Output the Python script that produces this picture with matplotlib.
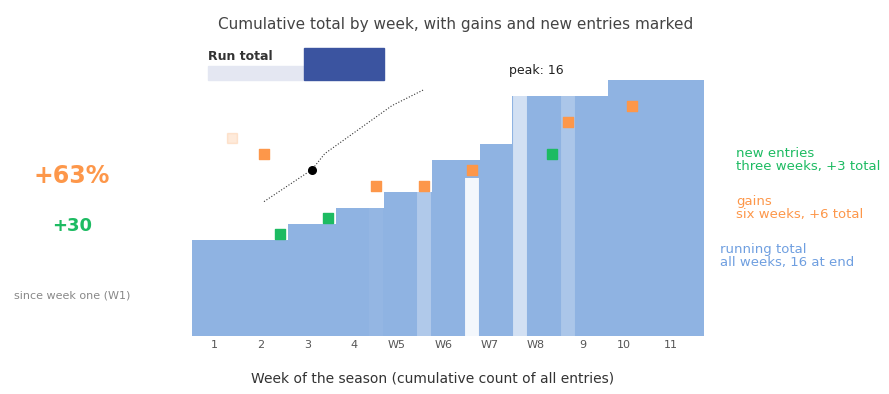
import matplotlib.pyplot as plt
from matplotlib.patches import Rectangle

# step levels of the cumulative total
edges = [0, 6, 9, 12, 15, 18, 20, 26, 32]
level = [6, 7, 8, 9, 11, 12, 15, 16]

tick_pos = [1.4, 4.3, 7.2, 10.1, 12.8, 15.7, 18.6, 21.5, 24.4, 27.0, 29.9]
tick_lab = ['1', '2', '3', '4', 'W5', 'W6', 'W7', 'W8', '9', '10', '11']

# events
gain_x = [4.5, 11.5, 14.5, 17.5, 23.5, 27.5]
gain_y = [11.4, 9.4, 9.4, 10.4, 13.4, 14.4]
new_x = [5.5, 8.5, 22.5]
new_y = [6.4, 7.4, 11.4]

stem_x = [11.5, 14.5, 17.5, 20.5, 23.5]
stem_top = [8, 9, 9.9, 15, 15]
stem_alpha = [0.05, 0.3, 0.9, 0.6, 0.25]

trend_x = [4.5, 7.5, 8.3, 12.5, 14.5]
trend_y = [8.4, 10.4, 11.4, 14.4, 15.4]

blue = '#8fb3e2'
orange = '#fd974a'
green = '#1dbb62'

fig = plt.figure(figsize=(8.89, 3.94), dpi=100)
ax = fig.add_axes([192 / 889, 1 - 336 / 394, 512 / 889, 272 / 394])

ax.stairs(level, edges, fill=True, color=blue, baseline=0)
for x, t, a in zip(stem_x, stem_top, stem_alpha):
    ax.vlines(x, 0, t, color='white', lw=10, alpha=a)

ax.plot(trend_x, trend_y, color='#333333', lw=0.8, ls=':', zorder=3)
ax.scatter(trend_x[1:2], trend_y[1:2], s=30, color='black', zorder=4)
ax.scatter(gain_x, gain_y, s=60, color=orange, marker='s', zorder=4)
ax.scatter([2.5], [12.4], s=60, color=orange, marker='s', alpha=0.2, zorder=4)
ax.scatter(new_x, new_y, s=60, color=green, marker='s', zorder=4)

ax.text(21.5, 16.6, 'peak: 16', fontsize=9, color='#222222', ha='center', va='center')

ax.set_xlim(0, 32)
ax.set_ylim(0, 17)
ax.set_xticks(tick_pos)
ax.set_xticklabels(tick_lab, fontsize=8, color='#555555')
ax.tick_params(axis='x', length=0, pad=3)
ax.set_yticks([])
for s in ax.spines.values():
    s.set_visible(False)
ax.set_xlabel('Week of the season (cumulative count of all entries)', fontsize=10,
              color='#333333', labelpad=8)
ax.xaxis.set_label_coords(0.47, -0.13)

fig.text(456 / 889, 1 - 24 / 394, 'Cumulative total by week, with gains and new entries marked',
         fontsize=11, color='#444444', ha='center', va='center')

# small key at the top left
fig.text(208 / 889, 1 - 56 / 394, 'Run total', fontsize=9, fontweight='bold', color='#333333', va='center')
fig.patches.append(Rectangle((208 / 889, 1 - 80 / 394), 96 / 889, 14 / 394,
                             transform=fig.transFigure, color='#e4e7f2'))
fig.patches.append(Rectangle((304 / 889, 1 - 80 / 394), 80 / 889, 32 / 394,
                             transform=fig.transFigure, color='#3b54a0'))

# left notes
fig.text(72 / 889, 1 - 176 / 394, '+63%', fontsize=17, fontweight='bold', color=orange, ha='center', va='center')
fig.text(72 / 889, 1 - 226 / 394, '+30', fontsize=13, fontweight='bold', color=green, ha='center', va='center')
fig.text(72 / 889, 1 - 296 / 394, 'since week one (W1)', fontsize=8, color='#888888', ha='center', va='center')

# right labels
fig.text(736 / 889, 1 - 160 / 394, 'new entries\nthree weeks, +3 total', fontsize=9.5, color=green,
         va='center', linespacing=1.0)
fig.text(736 / 889, 1 - 208 / 394, 'gains\nsix weeks, +6 total', fontsize=9.5, color=orange,
         va='center', linespacing=1.0)
fig.text(720 / 889, 1 - 256 / 394, 'running total\nall weeks, 16 at end', fontsize=9.5, color='#6f9fe0',
         va='center', linespacing=1.0)

fig.savefig('out.png', dpi=100)
